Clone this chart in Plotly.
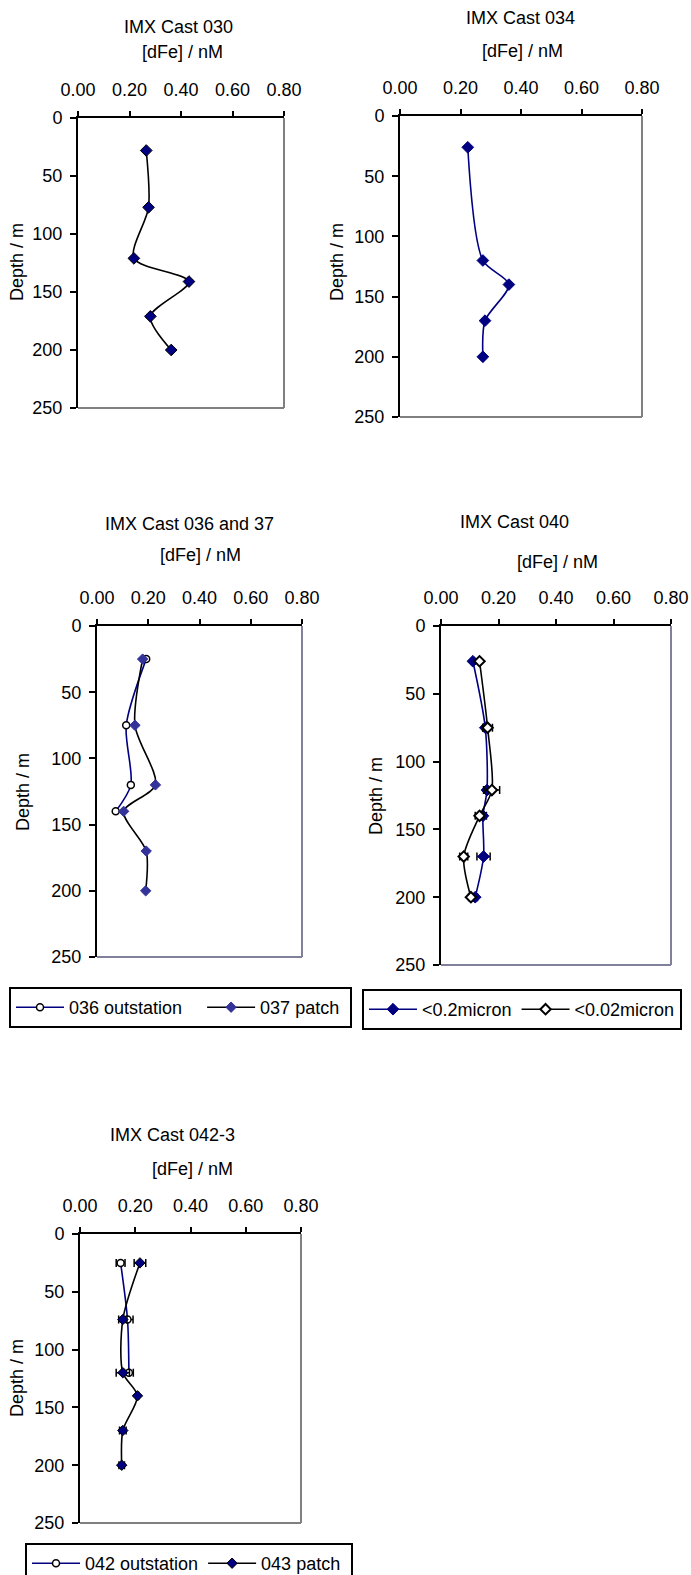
import plotly.graph_objects as go

W, H = 691, 1575
NAVY = "#000080"
PATCH_BLUE = "#333399"
FONT = "Liberation Sans, Arial, sans-serif"
NBSP = "\u00a0"

# ---- data: depth (m) and dissolved Fe (nM) ----
# Cast 030
d030 = [28, 77, 121, 141, 171, 200]
fe030 = [0.265, 0.274, 0.217, 0.431, 0.281, 0.362]
# Cast 034
d034 = [26, 120, 140, 170, 200]
fe034 = [0.224, 0.274, 0.360, 0.281, 0.274]
# Cast 036 (outstation) and 037 (patch)
d036 = [25, 75, 120, 140]
fe036 = [0.192, 0.114, 0.132, 0.073]
d037 = [25, 75, 120, 140, 170, 200]
fe037 = [0.178, 0.148, 0.228, 0.104, 0.192, 0.190]
# Cast 040 size fractions
d040 = [26, 75, 121, 140, 170, 200]
fe040_02 = [0.111, 0.154, 0.160, 0.146, 0.148, 0.119]
err040_02 = [0.005, 0.008, 0.012, 0.012, 0.023, 0.008]
fe040_002 = [0.134, 0.162, 0.177, 0.134, 0.079, 0.104]
err040_002 = [0.005, 0.017, 0.027, 0.015, 0.014, 0.008]
# Cast 042 (outstation) and 043 (patch)
d042 = [25, 74, 120]
fe042 = [0.147, 0.172, 0.177]
err042 = [0.016, 0.02, 0.016]
d043 = [25, 74, 120, 140, 170, 200]
fe043 = [0.217, 0.155, 0.155, 0.208, 0.155, 0.151]
err043 = [0.021, 0.015, 0.024, 0.005, 0.012, 0.01]

x_ticks = [0.0, 0.2, 0.4, 0.6, 0.8]
y_ticks = [0, 50, 100, 150, 200, 250]

# plot boxes in pixels: left, right, top, bottom
boxes = [
    (78, 284, 118, 408),
    (400, 642, 116, 417),
    (97, 302, 626, 957),
    (441, 671, 626, 965),
    (80, 301, 1234, 1523),
]
border_cols = ["#808080", "#808080", "#80809a", "#80809a", "#808080"]


def px(x):
    return x / W


def py(y):
    return 1 - y / H


fig = go.Figure()


def sfx(i):
    return "" if i == 1 else str(i)


def line_trace(i, x, y, name, lcolor, symbol, mfill, mline, msize, legend=None,
               err=None, mlw=1):
    kw = {}
    if err is not None:
        kw["error_x"] = dict(type="data", array=err, visible=True, color="black",
                             thickness=1.5, width=4)
    fig.add_trace(go.Scatter(
        x=x, y=y, name=name, mode="lines+markers",
        line=dict(color=lcolor, width=1.6, shape="spline", smoothing=0.8),
        marker=dict(symbol=symbol, size=msize, color=mfill,
                    line=dict(color=mline, width=mlw)),
        xaxis="x" + sfx(i), yaxis="y" + sfx(i),
        showlegend=legend is not None,
        legend=legend if legend else "legend",
        cliponaxis=False, **kw))


# panel 1: cast 030
line_trace(1, fe030, d030, "030", "black", "diamond", NAVY, "black", 9)
# panel 2: cast 034
line_trace(2, fe034, d034, "034", NAVY, "diamond", NAVY, NAVY, 9)
# panel 3: casts 036 / 037
line_trace(3, fe036, d036, "036 outstation" + NBSP * 3, NAVY, "circle", "white", "black", 7,
           legend="legend", mlw=1.5)
line_trace(3, fe037, d037, "037 patch" + NBSP, "black", "diamond", PATCH_BLUE, PATCH_BLUE, 8,
           legend="legend")
# panel 4: cast 040
line_trace(4, fe040_02, d040, "<0.2micron", NAVY, "diamond", NAVY, NAVY, 9,
           legend="legend2", err=err040_02)
line_trace(4, fe040_002, d040, "<0.02micron", "black", "diamond", "white", "black", 8,
           legend="legend2", err=err040_002, mlw=2)
# panel 5: casts 042 / 043
line_trace(5, fe042, d042, "042 outstation", NAVY, "circle", "white", "black", 7,
           legend="legend3", err=err042, mlw=1.5)
line_trace(5, fe043, d043, "043 patch" + NBSP, "black", "diamond", NAVY, "black", 8,
           legend="legend3", err=err043)

layout = dict(
    width=W, height=H, autosize=False,
    margin=dict(l=0, r=0, t=0, b=0, pad=0, autoexpand=False),
    paper_bgcolor="white", plot_bgcolor="white",
    font=dict(family=FONT, size=18, color="black"),
    showlegend=True,
)

shapes = []
for i, (l, r, t, b) in enumerate(boxes, start=1):
    s = sfx(i)
    layout["xaxis" + s] = dict(
        domain=[px(l), px(r)], anchor="y" + s, side="top",
        range=[0, 0.8], tickvals=x_ticks, tickformat=".2f",
        showline=True, linecolor="black", linewidth=2,
        ticks="outside", ticklen=5, tickwidth=1.5, tickcolor="black",
        ticklabelstandoff=8, automargin=False,
        showgrid=False, zeroline=False, fixedrange=True,
        tickfont=dict(size=18),
    )
    layout["yaxis" + s] = dict(
        domain=[py(b), py(t)], anchor="x" + s,
        range=[250, 0], tickvals=y_ticks,
        showline=True, linecolor="black", linewidth=2,
        ticks="outside", ticklen=6, tickwidth=1.5, tickcolor="black",
        ticklabelstandoff=4, automargin=False,
        showgrid=False, zeroline=False, fixedrange=True,
        tickfont=dict(size=18),
    )
    xd, yd = "x" + s + " domain", "y" + s + " domain"
    shapes.append(dict(type="line", xref=xd, yref=yd, x0=1, x1=1, y0=0, y1=1,
                       line=dict(color=border_cols[i - 1], width=2), layer="below"))
    shapes.append(dict(type="line", xref=xd, yref=yd, x0=0, x1=1, y0=0, y1=0,
                       line=dict(color=border_cols[i - 1], width=2), layer="below"))
layout["shapes"] = shapes

# titles, axis titles (x on top, depth on the left)
texts = [
    ("IMX Cast 030", 178, 27, 0), ("[dFe] / nM", 182, 52, 0), ("Depth / m", 17, 262, -90),
    ("IMX Cast 034", 520, 18, 0), ("[dFe] / nM", 522, 51, 0), ("Depth / m", 337, 262, -90),
    ("IMX Cast 036 and 37", 189, 524, 0), ("[dFe] / nM", 200, 555, 0), ("Depth / m", 23, 792, -90),
    ("IMX Cast 040", 514, 522, 0), ("[dFe] / nM", 557, 562, 0), ("Depth / m", 376, 796, -90),
    ("IMX Cast 042-3", 172, 1135, 0), ("[dFe] / nM", 192, 1169, 0), ("Depth / m", 17, 1378, -90),
]
layout["annotations"] = [
    dict(text=t, x=px(x), y=py(y), xref="paper", yref="paper",
         xanchor="center", yanchor="middle", showarrow=False, textangle=a,
         font=dict(size=18))
    for t, x, y, a in texts
]

leg_common = dict(orientation="h", xanchor="left", yanchor="top",
                  bgcolor="white", bordercolor="black", borderwidth=2,
                  font=dict(size=18, family=FONT), itemwidth=48,
                  traceorder="normal",
                  itemclick=False, itemdoubleclick=False)
layout["legend"] = dict(x=px(9), y=py(987), **leg_common)
layout["legend2"] = dict(x=px(362), y=py(989), **leg_common)
layout["legend3"] = dict(x=px(25), y=py(1543), **leg_common)

fig.update_layout(**layout)
fig.write_html("out.html")
